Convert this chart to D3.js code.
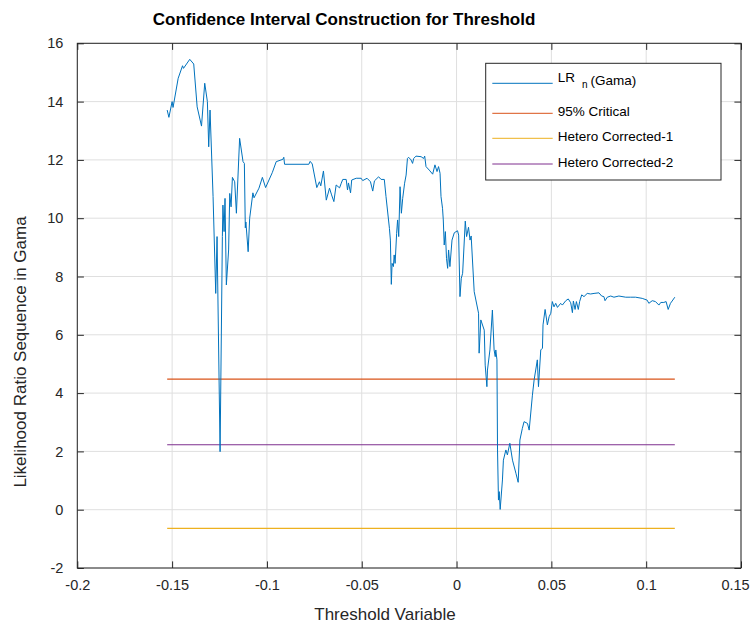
<!DOCTYPE html>
<html>
<head>
<meta charset="utf-8">
<script src="https://cdn.jsdelivr.net/npm/d3@7"></script>
<style>
  html, body { margin: 0; padding: 0; background: #ffffff; }
  svg { display: block; }
  text { font-family: "Liberation Sans", Arial, Helvetica, sans-serif; }
</style>
</head>
<body>
<div id="chart"></div>
<script>
// ---------------- DATA ----------------
const thresholdX = [
 -0.1526,-0.1517,-0.1500,-0.1495,-0.1468,-0.1445,-0.1440,-0.1407,-0.1386,-0.1368,
 -0.1345,-0.1328,-0.1314,-0.1307,-0.1300,-0.1284,-0.1270,-0.1263,-0.1247,-0.1235,
 -0.1232,-0.1226,-0.1221,-0.1214,-0.1202,-0.1196,-0.1189,-0.1182,-0.1170,-0.1161,
 -0.1144,-0.1126,-0.1119,-0.1114,-0.1111,-0.1099,-0.1091,-0.1074,-0.1068,-0.1042,
 -0.1024,-0.1007,-0.0972,-0.0951,-0.0916,-0.0911,-0.0907,-0.0779,-0.0772,-0.0761,
 -0.0737,-0.0723,-0.0716,-0.0702,-0.0687,-0.0670,-0.0659,-0.0647,-0.0635,-0.0617,
 -0.0608,-0.0600,-0.0582,-0.0575,-0.0570,-0.0559,-0.0553,-0.0529,-0.0503,-0.0495,
 -0.0472,-0.0454,-0.0442,-0.0433,-0.0411,-0.0398,-0.0381,-0.0372,-0.0354,-0.0349,
 -0.0344,-0.0340,-0.0333,-0.0329,-0.0324,-0.0316,-0.0311,-0.0305,-0.0298,-0.0291,
 -0.0284,-0.0274,-0.0266,-0.0259,-0.0253,-0.0240,-0.0232,-0.0226,-0.0214,-0.0187,
 -0.0174,-0.0168,-0.0161,-0.0144,-0.0126,-0.0114,-0.0103,-0.0095,-0.0087,-0.0082,
 -0.0074,-0.0070,-0.0065,-0.0059,-0.0053,-0.0047,-0.0042,-0.0035,-0.0024,-0.0012,
  0.0005, 0.0011, 0.0018, 0.0025, 0.0032, 0.0046, 0.0053, 0.0063, 0.0071, 0.0077,
  0.0093, 0.0116, 0.0119, 0.0128, 0.0146, 0.0151, 0.0160, 0.0163, 0.0176, 0.0189,
  0.0198, 0.0204, 0.0207, 0.0213, 0.0216, 0.0221, 0.0225, 0.0230, 0.0242, 0.0247,
  0.0260, 0.0268, 0.0281, 0.0295, 0.0313, 0.0325, 0.0334, 0.0347, 0.0356, 0.0374,
  0.0383, 0.0400, 0.0409, 0.0426, 0.0432, 0.0444, 0.0453, 0.0456, 0.0467, 0.0479,
  0.0488, 0.0497, 0.0505, 0.0514, 0.0523, 0.0532, 0.0549, 0.0558, 0.0576, 0.0589,
  0.0602, 0.0611, 0.0616, 0.0625, 0.0632, 0.0642, 0.0649, 0.0660, 0.0672, 0.0689,
  0.0707, 0.0725, 0.0751, 0.0765, 0.0777, 0.0783, 0.0795, 0.0813, 0.0830, 0.0856,
  0.0892, 0.0918, 0.0944, 0.0979, 0.1005, 0.1014, 0.1032, 0.1049, 0.1067, 0.1077,
  0.1093, 0.1105, 0.1116, 0.1128, 0.1137, 0.1151
];
const lrValues = [
 13.71,13.46,14.00,13.80,14.80,15.23,15.14,15.45,15.29,13.82,
 13.16,14.63,14.00,12.45,13.71,10.74, 7.42, 9.37, 1.99, 9.37,
 10.45, 9.54,10.68, 7.71, 8.91,10.85,10.39,11.40,11.25,10.17,
 12.74,11.94,11.88, 9.67, 9.87, 8.85,10.00,10.87,10.70,11.03,
 11.40,11.05,11.56,11.94,12.02,12.09,11.85,11.85,11.95,11.86,
 11.05,11.25,11.11,11.62,10.62,11.03,10.80,10.57,11.14,11.04,
 11.20,11.33,11.33,10.97,11.21,10.87,11.31,11.37,11.37,11.29,
 11.37,11.25,10.93,11.28,11.42,11.33,11.33,10.74, 9.65, 9.25,
  7.73, 8.45, 8.34, 8.74, 8.45, 9.48, 9.94, 9.37,11.08,10.17,
 10.68,11.20,11.48,12.05,12.09,12.00,11.88,12.05,12.13,12.11,
 12.05,12.13,11.77,11.65,11.51,11.83,11.60,11.77,11.54,10.74,
 10.34, 9.94, 9.08, 9.54, 8.62, 8.28, 8.91, 8.34, 9.25, 9.50,
  9.57, 9.42, 7.31, 7.94, 8.11, 9.90, 9.37, 9.69, 9.25, 9.39,
  7.48, 6.74, 5.37, 6.51, 6.16, 4.96, 4.22, 4.79, 5.48, 6.85,
  5.48, 5.25, 5.48, 5.14, 2.05, 0.33, 0.62, 0.01, 1.02, 1.70,
  2.05, 1.88, 2.28, 1.70, 1.25, 0.94, 2.39, 2.79, 3.02, 2.96,
  2.73, 3.93, 4.45, 5.14, 4.22, 5.48, 5.54, 6.34, 6.87, 6.34,
  6.62, 6.74, 7.14, 6.96, 7.08, 6.94, 7.08, 7.02, 7.17, 7.23,
  7.10, 6.76, 7.16, 6.87, 7.14, 6.87, 7.14, 7.37, 7.31, 7.42,
  7.40, 7.42, 7.44, 7.33, 7.31, 7.17, 7.29, 7.33, 7.29, 7.33,
  7.29, 7.29, 7.29, 7.25, 7.19, 7.08, 7.17, 7.14, 7.02, 7.11,
  7.11, 7.14, 6.87, 7.08, 7.16, 7.29
];
const criticalValue = 4.48;     // 95% Critical
const hetero1Value = -0.64;     // Hetero Corrected-1
const hetero2Value = 2.23;      // Hetero Corrected-2

const xTicks = [-0.2, -0.15, -0.1, -0.05, 0, 0.05, 0.1, 0.15];
const xTickLabels = ["-0.2", "-0.15", "-0.1", "-0.05", "0", "0.05", "0.1", "0.15"];
const yTicks = [-2, 0, 2, 4, 6, 8, 10, 12, 14, 16];
const yTickLabels = ["-2", "0", "2", "4", "6", "8", "10", "12", "14", "16"];

const seriesNames = ["LR", "95% Critical", "Hetero Corrected-1", "Hetero Corrected-2"];
const seriesColors = ["#0072BD", "#D95319", "#EDB120", "#7E2F8E"];

const titleText = "Confidence Interval Construction for Threshold";
const xLabelText = "Threshold Variable";
const yLabelText = "Likelihood Ratio Sequence in Gama";

// ---------------- LAYOUT ----------------
const W = 752, H = 625;
const pL = 77.3, pR = 741, pT = 43.3, pB = 568;
const axisColor = "#262626";
const gridColor = "#dfdfdf";
const tickLen = 6.6;

const svg = d3.select("#chart").append("svg")
  .attr("width", W).attr("height", H)
  .attr("viewBox", `0 0 ${W} ${H}`);

svg.append("rect").attr("width", W).attr("height", H).attr("fill", "#ffffff");

const x = d3.scaleLinear().domain([-0.2, 0.15]).range([pL, pR]);
const y = d3.scaleLinear().domain([-2, 16]).range([pB, pT]);

// grid
const grid = svg.append("g");
grid.selectAll("line.gx").data(xTicks).join("line")
  .attr("x1", d => x(d)).attr("x2", d => x(d))
  .attr("y1", pT).attr("y2", pB)
  .attr("stroke", gridColor).attr("stroke-width", 1);
grid.selectAll("line.gy").data(yTicks).join("line")
  .attr("x1", pL).attr("x2", pR)
  .attr("y1", d => y(d)).attr("y2", d => y(d))
  .attr("stroke", gridColor).attr("stroke-width", 1);

// data lines
const line = d3.line().x(d => x(d[0])).y(d => y(d[1]));
const lrData = thresholdX.map((v, i) => [v, lrValues[i]]);
const xMin = d3.min(thresholdX), xMax = d3.max(thresholdX);

const plot = svg.append("g");
plot.append("path").datum([[xMin, criticalValue], [xMax, criticalValue]])
  .attr("d", line).attr("fill", "none").attr("stroke", seriesColors[1]).attr("stroke-width", 1.2);
plot.append("path").datum([[xMin, hetero1Value], [xMax, hetero1Value]])
  .attr("d", line).attr("fill", "none").attr("stroke", seriesColors[2]).attr("stroke-width", 1.1);
plot.append("path").datum([[xMin, hetero2Value], [xMax, hetero2Value]])
  .attr("d", line).attr("fill", "none").attr("stroke", seriesColors[3]).attr("stroke-width", 1.1);
plot.append("path").datum(lrData)
  .attr("d", line).attr("fill", "none").attr("stroke", seriesColors[0])
  .attr("stroke-width", 1).attr("stroke-linejoin", "round");

// axes using d3 axis generators (inward ticks)
function styleAxis(g) {
  g.select(".domain").remove();
  g.selectAll(".tick line").attr("stroke", axisColor).attr("stroke-width", 1);
  g.selectAll(".tick text").attr("fill", axisColor)
    .style("font-size", "14.5px");
}
const fmtX = (d) => xTickLabels[xTicks.indexOf(d)];
const fmtY = (d) => yTickLabels[yTicks.indexOf(d)];

const xAxisG = svg.append("g").attr("transform", `translate(0,${pB})`)
  .call(d3.axisBottom(x).tickValues(xTicks).tickFormat(fmtX).tickSizeInner(-tickLen).tickSizeOuter(0).tickPadding(12))
  .call(styleAxis);
xAxisG.selectAll(".tick text").attr("dy", "0.71em")
  .attr("dx", (d, i) => i === xTicks.length - 1 ? -6 : 0);
svg.append("g").attr("transform", `translate(0,${pT})`)
  .call(d3.axisTop(x).tickValues(xTicks).tickFormat("").tickSizeInner(-tickLen).tickSizeOuter(0))
  .call(styleAxis);
svg.append("g").attr("transform", `translate(${pL},0)`)
  .call(d3.axisLeft(y).tickValues(yTicks).tickFormat(fmtY).tickSizeInner(-tickLen).tickSizeOuter(0).tickPadding(14))
  .call(styleAxis);
svg.append("g").attr("transform", `translate(${pR},0)`)
  .call(d3.axisRight(y).tickValues(yTicks).tickFormat("").tickSizeInner(-tickLen).tickSizeOuter(0))
  .call(styleAxis);

// box
svg.append("rect").attr("x", pL).attr("y", pT)
  .attr("width", pR - pL).attr("height", pB - pT)
  .attr("fill", "none").attr("stroke", axisColor).attr("stroke-width", 1);

// title & labels
svg.append("text").attr("x", 344).attr("y", 25)
  .attr("text-anchor", "middle").attr("fill", "#000")
  .style("font-size", "17px").style("font-weight", "bold").text(titleText);
svg.append("text").attr("x", 385).attr("y", 620)
  .attr("text-anchor", "middle").attr("fill", axisColor)
  .style("font-size", "17px").text(xLabelText);
svg.append("text").attr("transform", "translate(25.5,352) rotate(-90)")
  .attr("text-anchor", "middle").attr("fill", axisColor)
  .style("font-size", "17px").text(yLabelText);

// legend
const lg = svg.append("g");
lg.append("rect").attr("x", 485.7).attr("y", 63.3).attr("width", 235.3).attr("height", 116.7)
  .attr("fill", "#ffffff").attr("stroke", axisColor).attr("stroke-width", 1);
const legendY = [83.3, 113.3, 138.3, 164];
seriesColors.forEach((c, i) => {
  lg.append("line").attr("x1", 492.3).attr("x2", 552.7)
    .attr("y1", legendY[i]).attr("y2", legendY[i])
    .attr("stroke", c).attr("stroke-width", 1);
});
lg.append("text").attr("x", 557.7).attr("y", 81.5).attr("fill", "#000")
  .style("font-size", "13.5px").text(seriesNames[0]);
lg.append("text").attr("x", 582).attr("y", 88).attr("fill", "#000")
  .style("font-size", "10px").text("n");
lg.append("text").attr("x", 590.5).attr("y", 84.5).attr("fill", "#000")
  .style("font-size", "13.5px").text("(Gama)");
[1, 2, 3].forEach(i => {
  lg.append("text").attr("x", 557.7).attr("y", legendY[i] + 2.8).attr("fill", "#000")
    .style("font-size", "13.5px").text(seriesNames[i]);
});
</script>
</body>
</html>
